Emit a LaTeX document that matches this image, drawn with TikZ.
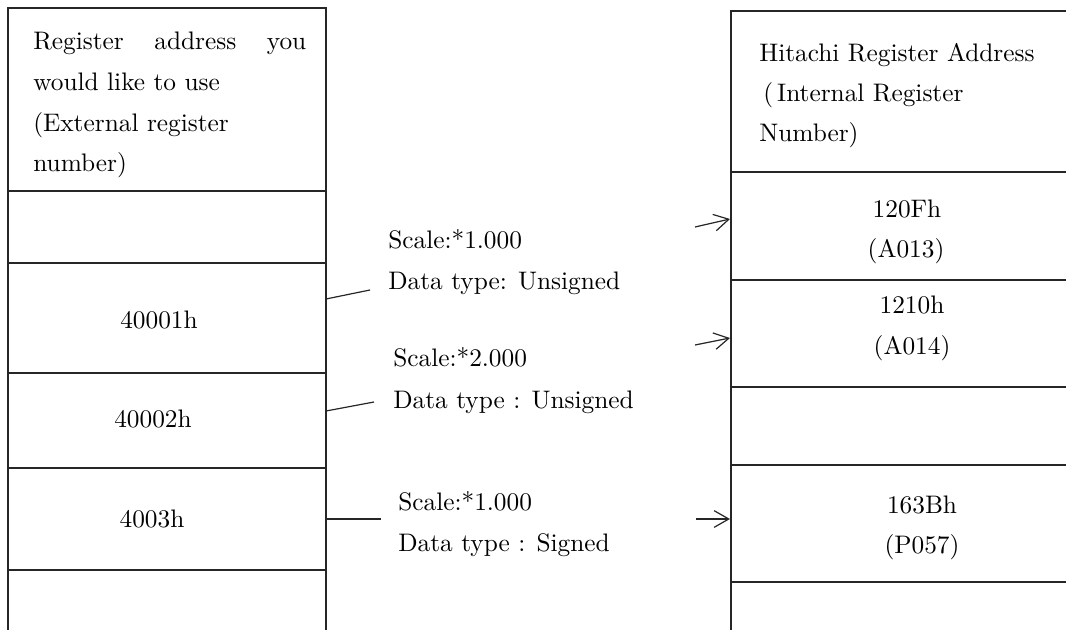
\documentclass[tikz,border=0pt]{standalone}
\usepackage{fontspec}
\setmainfont{lmroman10-regular.otf}
\usetikzlibrary{arrows.meta}
\begin{document}
\begin{tikzpicture}[x=0.75pt,y=-0.75pt,
  grid/.style={line width=0.9pt, draw=black!85},
  conn/.style={line width=0.9pt, draw=black!85},
  arr/.style={conn, -{Straight Barb[length=11pt,width=12.5pt]}},
  txt/.style={inner sep=0pt, font=\fontsize{19}{23}\selectfont, text=black},
  lt/.style={txt, anchor=base west},
  ct/.style={txt, anchor=base},
]
\useasboundingbox (0,0) rectangle (1066,630);
% left column
\draw[grid] (8,630) -- (8,8) -- (326,8) -- (326,630);
\foreach \y in {191,263,373,468,570} \draw[grid] (8,\y) -- (326,\y);
% right column
\draw[grid] (1066,11) -- (731,11) -- (731,630);
\foreach \y in {172,280,387,465,582} \draw[grid] (731,\y) -- (1066,\y);

% left header
\node[lt] (lh1) at (33,50) {\makebox[204.75pt][s]{Register\hfill address\hfill you}};
\node[lt] (lh2) at (33,91) {would like to use};
\node[lt] (lh3) at (33,132) {(External register};
\node[lt] (lh4) at (33,172) {number)};

% left values
\node[ct] (v1) at (159,329) {40001h};
\node[ct] (v2) at (153,427) {40002h};
\node[ct] (v3) at (152,527) {4003h};

% middle labels
\node[lt] (s1a) at (388,249) {Scale:*1.000};
\node[lt] (s1b) at (388,290) {Data type: Unsigned};
\node[lt] (s2a) at (393,367) {Scale:*2.000};
\node[lt] (s2b) at (393,408) {Data type : Unsigned};
\node[lt] (s3a) at (398,510) {Scale:*1.000};
\node[lt] (s3b) at (398,551) {Data type : Signed};

% right header
\node[lt] (rh1) at (759,62) {Hitachi Register Address};
\node[lt] (rh2) at (763,102) {(\hspace{3pt}Internal Register};
\node[lt] (rh3) at (759,142) {Number)};

% right values
\node[ct] (r1a) at (907,218) {120Fh};
\node[ct] (r1b) at (906,258) {(A013)};
\node[ct] (r2a) at (912,314) {1210h};
\node[ct] (r2b) at (912,355) {(A014)};
\node[ct] (r3a) at (922,513) {163Bh};
\node[ct] (r3b) at (922,553) {(P057)};

% connector end points
\coordinate (c1s) at (326,299);
\coordinate (c1e) at (370,290);
\coordinate (c2s) at (326,411);
\coordinate (c2e) at (374,402);
\coordinate (c3s) at (326,519);
\coordinate (c3e) at (381,519);
\coordinate (a1s) at (695,227);
\coordinate (a1e) at (730,219);
\coordinate (a2s) at (695,345);
\coordinate (a2e) at (730,338);
\coordinate (a3s) at (696,519);
\coordinate (a3e) at (730,519);

\draw[conn] (c1s) -- (c1e);
\draw[conn] (c2s) -- (c2e);
\draw[conn] (c3s) -- (c3e);
\draw[arr] (a1s) -- (a1e);
\draw[arr] (a2s) -- (a2e);
\draw[arr] (a3s) -- (a3e);
\end{tikzpicture}
\end{document}
